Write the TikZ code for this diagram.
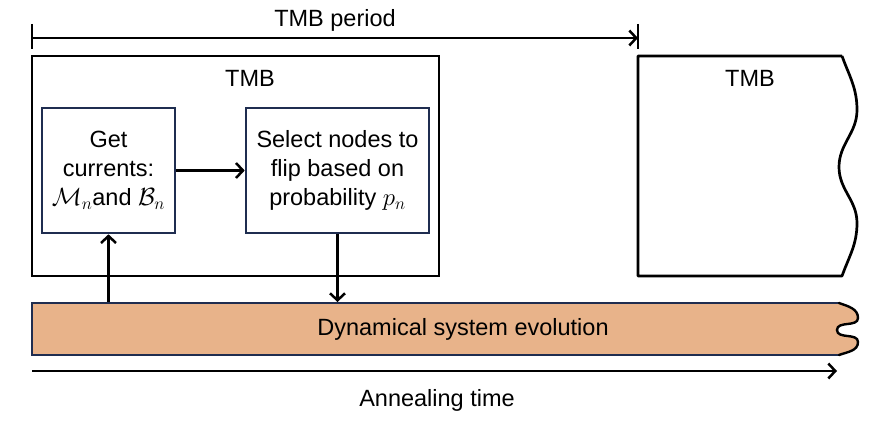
\documentclass[tikz,border=0pt]{standalone}
\usepackage{fontspec}
\setmainfont{Liberation Sans}
\usetikzlibrary{arrows.meta}
\definecolor{navy}{HTML}{1F2D50}
\definecolor{barfill}{HTML}{E8B38A}
\begin{document}
\begin{tikzpicture}[x=1pt,y=-1pt,
  every node/.style={font=\fontsize{23.5}{29}\selectfont, inner sep=0pt},
  outerbox/.style={draw=black, line width=2.7pt, minimum width=407pt, minimum height=220pt},
  innerbox/.style={draw=navy, line width=2.6pt, align=center, minimum height=125pt},
  arr/.style={line width=2.5pt, -{Straight Barb[length=7pt,width=15pt,line width=2.5pt]}},
  plain/.style={line width=2.5pt}]
\useasboundingbox (0,0) rectangle (892,430);

% top period arrow
\coordinate (p0) at (32,38);
\coordinate (p1) at (638,38);
\draw[plain] (32,24) -- (32,49);
\draw[plain] (638,24) -- (638,49);
\draw[arr] (p0) -- (p1);
\node (period) at (335,20) {TMB period};

% first TMB block
\node[outerbox] (tmb1) at (235.5,166) {};
\node (tmb1lbl) at (250,78) {TMB};
\node[innerbox, minimum width=133pt] (box1) at (108.5,170.5)
  {Get\\currents:\\$\mathcal{M}_n$and $\mathcal{B}_n$};
\node[innerbox, minimum width=183pt] (box2) at (337.5,170.5)
  {Select nodes to\\flip based on\\probability $p_n$};

% second TMB block (cut)
\draw[line width=2.7pt, line join=round] (842,56) -- (638,56) -- (638,276) -- (842,276)
  to[out=70,in=-90] (857,223) to[out=90,in=-90] (839,167)
  to[out=90,in=-90] (857,110) to[out=90,in=-70] (842,56);
\node (tmb2lbl) at (750,78) {TMB};

% dynamical system bar
\fill[barfill] (32,303) -- (839,303)
  to[out=-20,in=90] (858,318) to[out=-90,in=90] (837,330)
  to[out=-90,in=90] (858,342) to[out=-90,in=20] (839,355) -- (32,355) -- cycle;
\draw[navy, line width=2.6pt] (839,303) -- (32,303) -- (32,355) -- (839,355);
\draw[line width=2.4pt, line cap=round] (839,303)
  to[out=-20,in=90] (858,318) to[out=-90,in=90] (837,330)
  to[out=-90,in=90] (858,342) to[out=-90,in=20] (839,355);
\node (bar) at (463,329) {Dynamical system evolution};
\coordinate (bartop) at (0,302);

% connectors
\draw[arr] (box1) -- (box2);
\draw[arr] (box1.south |- bartop) -- (box1.south);
\draw[arr] (box2.south) -- (box2.south |- bartop);

% annealing time
\coordinate (a0) at (32,371);
\coordinate (a1) at (837,371);
\draw[arr] (a0) -- (a1);
\node (anneal) at (437,400) {Annealing time};
\end{tikzpicture}
\end{document}
